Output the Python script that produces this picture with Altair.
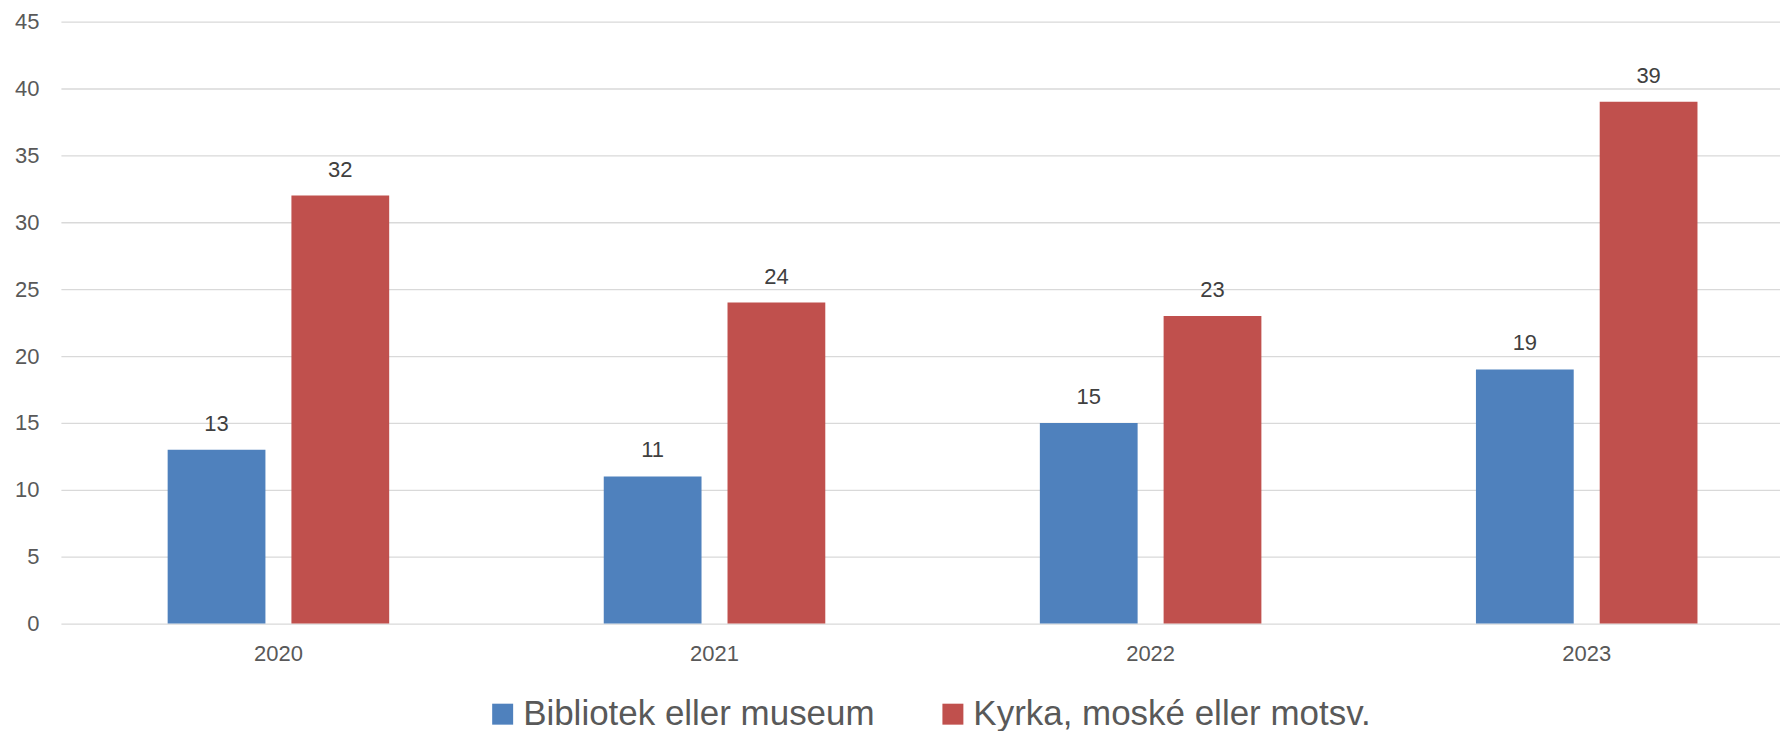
import altair as alt
import pandas as pd

years = ["2020", "2021", "2022", "2023"]
series = ["Bibliotek eller museum", "Kyrka, moské eller motsv."]
bibliotek = [13, 11, 15, 19]
kyrka = [32, 24, 23, 39]
colors = ["#4F81BD", "#C0504D"]
y_ticks = [0, 5, 10, 15, 20, 25, 30, 35, 40, 45]

rows = []
for i, yr in enumerate(years):
    rows.append({"year": yr, "serie": series[0], "value": bibliotek[i]})
    rows.append({"year": yr, "serie": series[1], "value": kyrka[i]})
df = pd.DataFrame(rows)

x = alt.X("year:N", sort=years, title=None,
          scale=alt.Scale(paddingInner=0.492, paddingOuter=0.217, align=0.564),
          axis=alt.Axis(labelAngle=0, domain=False, ticks=False, labelFontSize=22,
                        labelColor="#595959", labelPadding=20))
xoff = alt.XOffset("serie:N", sort=series, scale=alt.Scale(paddingInner=0.21, paddingOuter=0))
y = alt.Y("value:Q", title=None,
          scale=alt.Scale(domain=[0, 45], nice=False, zero=True),
          axis=alt.Axis(values=y_ticks, domain=False, ticks=False, labelFontSize=22,
                        labelColor="#595959", labelPadding=22, gridColor="#d9d9d9",
                        gridWidth=1.3))
color = alt.Color("serie:N", sort=series, title=None,
                  scale=alt.Scale(domain=series, range=colors),
                  legend=alt.Legend(orient="none", direction="horizontal",
                                    legendX=425, legendY=676,
                                    symbolType="square", symbolSize=441,
                                    symbolStrokeWidth=0, symbolOpacity=1,
                                    labelFontSize=35, labelColor="#595959",
                                    labelOffset=3, columnPadding=60, padding=0,
                                    labelLimit=0))

bars = alt.Chart(df).mark_bar(stroke=None).encode(x=x, xOffset=xoff, y=y, color=color)
labels = alt.Chart(df).mark_text(baseline="alphabetic", dy=-19, fontSize=22,
                                 color="#404040").encode(
    x=x, xOffset=xoff, y=y, text=alt.Text("value:Q"))

chart = alt.layer(bars, labels).properties(
    width=1722, height=603,
    padding={"left": 53, "top": 13, "right": 0, "bottom": 115},
    autosize=alt.AutoSizeParams(type="none"),
).configure(font="Liberation Sans").configure_view(stroke=None)

chart.save("out.html", embed_options={"renderer": "svg", "actions": False})
